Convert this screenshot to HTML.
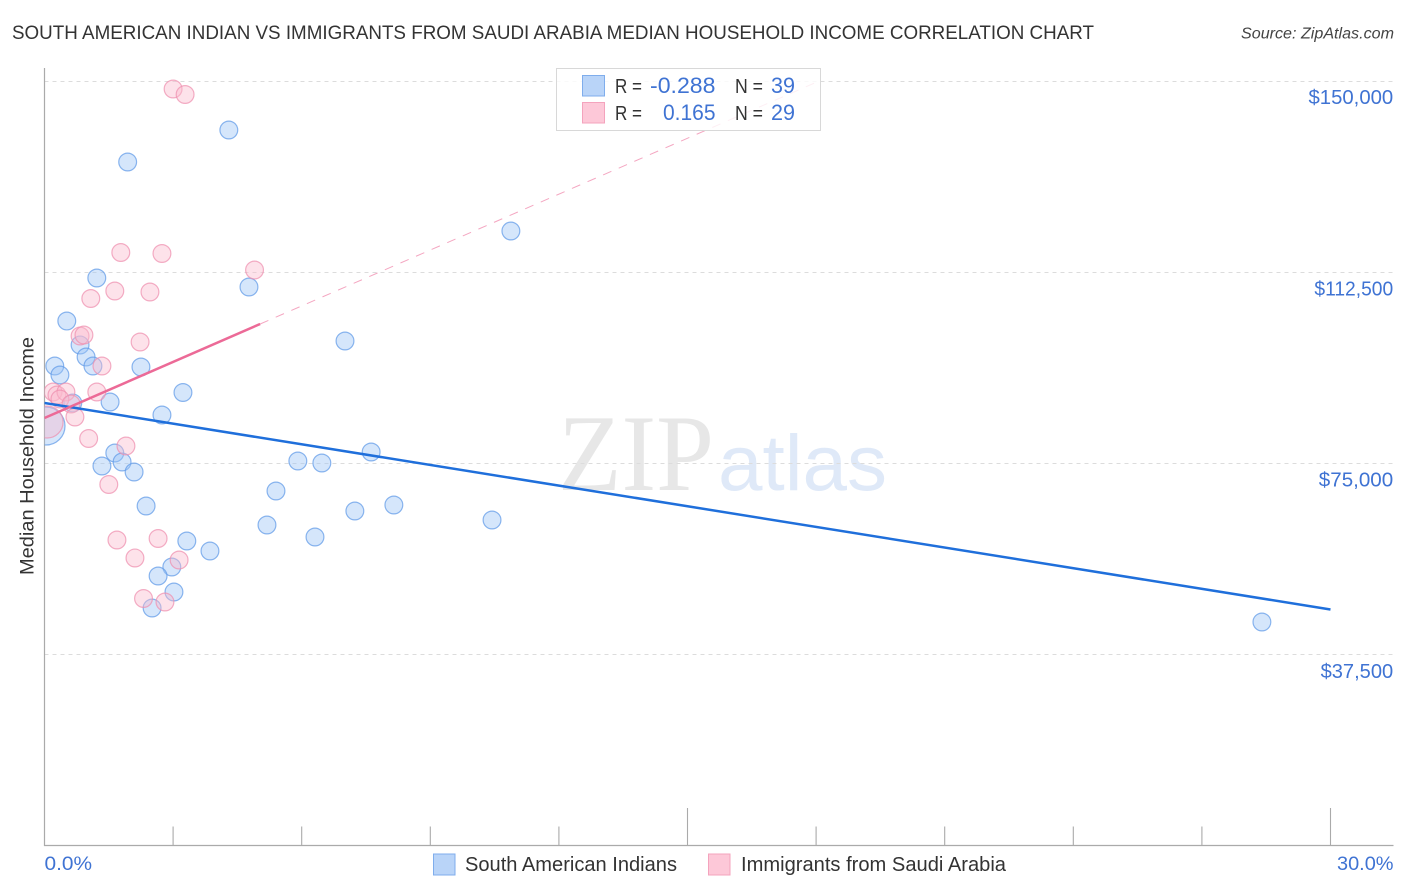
<!DOCTYPE html>
<html lang="en">
<head>
<meta charset="utf-8">
<title>South American Indian vs Immigrants from Saudi Arabia Median Household Income Correlation Chart</title>
<style>
html,body{margin:0;padding:0;background:#fff;}
svg{display:block;font-family:"Liberation Sans",sans-serif;}
</style>
</head>
<body>
<svg id="chart" xmlns="http://www.w3.org/2000/svg" width="1406" height="892" viewBox="0 0 1406 892">
  <defs>
    <clipPath id="plot-clip"><rect x="44.5" y="60" width="1349" height="785.5"/></clipPath>
  </defs>
  <text x="12" y="39" font-size="19.5" fill="#333" textLength="1082" lengthAdjust="spacingAndGlyphs">SOUTH AMERICAN INDIAN VS IMMIGRANTS FROM SAUDI ARABIA MEDIAN HOUSEHOLD INCOME CORRELATION CHART</text>
  <text x="1241" y="38.5" font-size="15.5" font-style="italic" fill="#444" textLength="153" lengthAdjust="spacingAndGlyphs">Source: ZipAtlas.com</text>

  <g>
    <text x="558" y="490" font-family="'Liberation Serif',serif" font-size="109" fill="#e7e7e7" textLength="156" lengthAdjust="spacingAndGlyphs">ZIP</text>
    <text x="718" y="490" font-size="79" fill="#dfe9f8" textLength="169" lengthAdjust="spacingAndGlyphs">atlas</text>
  </g>

  <g id="grid"></g>
  <g id="axes"></g>
  <g id="marks" clip-path="url(#plot-clip)"></g>
  <g id="trends" clip-path="url(#plot-clip)"></g>

  <text transform="translate(33.5,575) rotate(-90)" font-size="19.5" fill="#333" textLength="238" lengthAdjust="spacingAndGlyphs">Median Household Income</text>

  <g>
    <rect x="556.5" y="68.5" width="264" height="62" fill="#fff" fill-opacity="0.82" stroke="#d8d8d8" stroke-width="1"/>
    <rect x="582.5" y="75.5" width="22" height="20.5" fill="#b9d4f8" stroke="#7fadec" stroke-width="1"/>
    <rect x="582.5" y="102.5" width="22" height="20.5" fill="#fdc8d8" stroke="#f4a3bd" stroke-width="1"/>
    <text x="615" y="93" font-size="20" fill="#333" textLength="27" lengthAdjust="spacingAndGlyphs">R =</text>
    <text x="650" y="93" font-size="22" fill="#3f73d3" textLength="65.5" lengthAdjust="spacingAndGlyphs">-0.288</text>
    <text x="735" y="93" font-size="20" fill="#333" textLength="28" lengthAdjust="spacingAndGlyphs">N =</text>
    <text x="771" y="93" font-size="22" fill="#3f73d3" textLength="24" lengthAdjust="spacingAndGlyphs">39</text>
    <text x="615" y="120" font-size="20" fill="#333" textLength="27" lengthAdjust="spacingAndGlyphs">R =</text>
    <text x="663" y="120" font-size="22" fill="#3f73d3" textLength="52.5" lengthAdjust="spacingAndGlyphs">0.165</text>
    <text x="735" y="120" font-size="20" fill="#333" textLength="28" lengthAdjust="spacingAndGlyphs">N =</text>
    <text x="771" y="120" font-size="22" fill="#3f73d3" textLength="24" lengthAdjust="spacingAndGlyphs">29</text>
  </g>

  <g>
    <rect x="433.5" y="854" width="21.5" height="21" fill="#b9d4f8" stroke="#7fadec" stroke-width="1"/>
    <text x="465" y="871" font-size="20" fill="#333" textLength="212" lengthAdjust="spacingAndGlyphs">South American Indians</text>
    <rect x="708.5" y="854" width="21.5" height="21" fill="#fdc8d8" stroke="#f4a3bd" stroke-width="1"/>
    <text x="741" y="871" font-size="20" fill="#333" textLength="265" lengthAdjust="spacingAndGlyphs">Immigrants from Saudi Arabia</text>
  </g>
</svg>
<script>
// Chart data
var yTickValues = [37500, 75000, 112500, 150000];
var yTickLabels = ["$37,500", "$75,000", "$112,500", "$150,000"];
var xEdgeValues = [0, 30];
var xEdgeLabels = ["0.0%", "30.0%"];
var xTickCount = 10;

var blueX = [4.30,1.94,10.88,1.22,4.77,0.52,7.01,0.83,0.97,0.24,1.13,2.25,0.36,3.23,1.53,0.66,2.74,7.62,1.64,5.91,6.47,1.34,1.81,2.09,5.40,2.37,8.15,7.24,10.44,5.19,6.31,3.32,3.86,2.97,2.65,3.02,2.51,28.40,0.035];
var blueY = [140295,134020,120490,111275,109510,102840,98920,98140,95785,94020,94020,93825,92255,88825,86960,86765,84410,77155,76960,75390,75000,74410,75195,73235,69510,66570,66765,65590,63825,62845,60490,59705,57745,54610,52845,49705,46570,43825,82255];
var blueWeight = [1,1,1,1,1,1,1,1,1,1,1,1,1,1,1,1,1,1,1,1,1,1,1,1,1,1,1,1,1,1,1,1,1,1,1,1,1,1,4.56];

var pinkX = [3.00,3.28,1.78,2.74,4.90,1.64,2.46,1.08,2.23,0.83,0.92,1.34,1.22,0.20,0.29,0.50,0.36,0.62,0.71,1.03,1.90,1.50,1.69,2.65,2.11,3.14,2.31,2.81,0.06];
var pinkY = [148335,147255,116275,116080,112840,108725,108530,107255,98725,99900,100100,94020,88920,88920,88335,88920,87550,86570,84020,79805,78335,70785,59900,60195,56375,55980,48430,47745,83040];
var pinkWeight = [1,1,1,1,1,1,1,1,1,1,1,1,1,1,1,1,1,1,1,1,1,1,1,1,1,1,1,1,3.23];

var blueTrendX = [0, 30];
var blueTrendY = [86765, 46275];
var pinkTrendX = [0, 5.03];
var pinkTrendY = [83825, 102255];
var pinkDashX = [5.03, 18.1];
var pinkDashY = [102255, 150000];

// Axis functions
function xScale(v) { return 44.5 + v * (1286 / 30); }
function yScale(v) { return 845.5 - v * 0.0051; }
var NS = "http://www.w3.org/2000/svg";
function make(tag, parent, attrs) {
  var el = document.createElementNS(NS, tag);
  for (var k in attrs) { el.setAttribute(k, attrs[k]); }
  parent.appendChild(el);
  return el;
}
// Approximates the wider proportional numerals of the reference's label font
function labelWidth(s) {
  var w = 0;
  for (var i = 0; i < s.length; i++) {
    var c = s.charAt(i);
    w += c === "0" ? 12.6 : c === "1" ? 8.5 : c === "," ? 4.5 : c === "$" ? 10.5 : 10.8;
  }
  return w;
}
var grid = document.getElementById("grid");
var axes = document.getElementById("axes");
var marks = document.getElementById("marks");
var trends = document.getElementById("trends");

yTickValues.forEach(function (v, i) {
  var y = Math.round(yScale(v)) + 0.5;
  var line = make("line", grid, {x1: 44.5, x2: 1393, y1: y, y2: y, stroke: "#dcdcdc", "stroke-width": 1, "stroke-dasharray": "4 4"});
  
  
  var w = labelWidth(yTickLabels[i]);
  var label = make("text", axes, {x: 1393.2 - w, y: yScale(v) + 23.5, "font-size": 20, fill: "#3f73d3", textLength: w, lengthAdjust: "spacingAndGlyphs"});
  
  
  label.textContent = yTickLabels[i];
});

var yAxis = make("line", axes, {x1: 44.5, x2: 44.5, y1: 68, y2: 846, stroke: "#aaa", "stroke-width": 1.2});


var xAxis = make("line", axes, {x1: 44, x2: 1393.5, y1: 845.5, y2: 845.5, stroke: "#aaa", "stroke-width": 1.2});



for (var t = 1; t <= xTickCount; t++) {
  var tv = xEdgeValues[1] * t / xTickCount;
  var major = (t === 5 || t === 10);
  var tick = make("line", axes, {x1: xScale(tv), x2: xScale(tv), y1: major ? 808 : 826.5, y2: 845.5, stroke: "#aaa", "stroke-width": 1.1});
  
  
}

var xLabelLeft = make("text", axes, {x: 44.5, y: 870, "font-size": 19, fill: "#3f73d3", textLength: 47.5, lengthAdjust: "spacingAndGlyphs"});


xLabelLeft.textContent = xEdgeLabels[0];
var xLabelRight = make("text", axes, {x: 1337, y: 870, "font-size": 19, fill: "#3f73d3", textLength: 56.5, lengthAdjust: "spacingAndGlyphs"});


xLabelRight.textContent = xEdgeLabels[1];

function radius(w) { return 8.9 * Math.sqrt(w); }

blueX.forEach(function (x, i) {
  var c = make("circle", marks, {cx: xScale(x), cy: yScale(blueY[i]), r: radius(blueWeight[i]), fill: "#9cc3f5", "fill-opacity": 0.42, stroke: "#5f9ae8", "stroke-opacity": 0.72, "stroke-width": 1.2});
  
  
});
pinkX.forEach(function (x, i) {
  var c = make("circle", marks, {cx: xScale(x), cy: yScale(pinkY[i]), r: radius(pinkWeight[i]), fill: "#fbb9cd", "fill-opacity": 0.42, stroke: "#ef8fae", "stroke-opacity": 0.72, "stroke-width": 1.2});
  
  
});

var dash = make("line", trends, {x1: xScale(pinkDashX[0]), y1: yScale(pinkDashY[0]), x2: xScale(pinkDashX[1]), y2: yScale(pinkDashY[1]), stroke: "#ec6a97", "stroke-opacity": 0.6, "stroke-width": 1, "stroke-dasharray": "9 8"});


var blueLine = make("line", trends, {x1: xScale(blueTrendX[0]), y1: yScale(blueTrendY[0]), x2: xScale(blueTrendX[1]), y2: yScale(blueTrendY[1]), stroke: "#1f6fdb", "stroke-width": 2.5});


var pinkLine = make("line", trends, {x1: xScale(pinkTrendX[0]), y1: yScale(pinkTrendY[0]), x2: xScale(pinkTrendX[1]), y2: yScale(pinkTrendY[1]), stroke: "#ec6a97", "stroke-width": 2.5});


</script>
</body>
</html>
